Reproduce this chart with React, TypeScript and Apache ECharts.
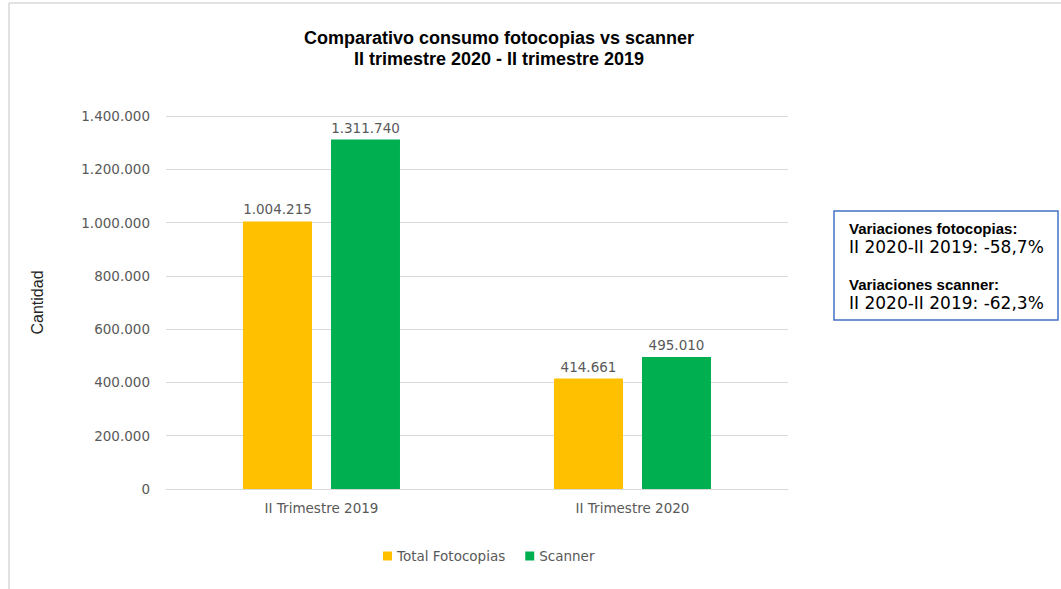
import React, { useEffect, useRef } from "react";
import * as echarts from "echarts";

const categories = ["II Trimestre 2019", "II Trimestre 2020"];
const fotocopias = [1004215, 414661];
const scanner = [1311740, 495010];
const seriesNames = ["Total Fotocopias", "Scanner"];
const titleLines = ["Comparativo consumo fotocopias vs scanner", "II trimestre 2020 - II trimestre 2019"];
const boxLines = [
  "Variaciones fotocopias:",
  "II 2020-II 2019: -58,7%",
  "Variaciones scanner:",
  "II 2020-II 2019: -62,3%",
];

const fmt = (v: number) => String(Math.round(v)).replace(/\B(?=(\d{3})+(?!\d))/g, ".");

export default function App() {
  const ref = useRef<HTMLDivElement>(null);
  useEffect(() => {
    if (!ref.current) return;
    const chart = echarts.init(ref.current, undefined, { renderer: "svg" });
    const labelFont = "DejaVu Sans";
    const boldText = (text: string, y: number) => ({
      type: "text",
      x: 849,
      y,
      style: { text, fontFamily: "Liberation Sans", fontWeight: "bold", fontSize: 15, fill: "#000", verticalAlign: "middle" },
    });
    const plainText = (text: string, y: number) => ({
      type: "text",
      x: 849,
      y,
      style: { text, fontFamily: "DejaVu Sans", fontSize: 17, fill: "#000", verticalAlign: "middle" },
    });
    const titleText = (text: string, y: number) => ({
      type: "text",
      x: 499,
      y,
      style: {
        text,
        fontFamily: "Liberation Sans",
        fontWeight: "bold",
        fontSize: 18,
        fill: "#000000",
        align: "center",
        verticalAlign: "middle",
      },
    });
    const barLabel = {
      show: true,
      position: "top",
      distance: 5,
      fontFamily: labelFont,
      fontSize: 13.5,
      color: "#595959",
      formatter: (p: any) => fmt(p.value),
    };
    chart.setOption({
      animation: false,
      backgroundColor: "#ffffff",
      grid: { left: 166, right: 273, top: 116, bottom: 100 },
      legend: {
        left: 378,
        top: 544,
        itemWidth: 9,
        itemHeight: 9,
        itemGap: 20,
        icon: "rect",
        textStyle: { fontFamily: labelFont, fontSize: 13.5, color: "#595959" },
        data: seriesNames,
      },
      xAxis: {
        type: "category",
        data: categories,
        axisLine: { show: true, lineStyle: { color: "#d9d9d9", width: 1 } },
        axisTick: { show: false },
        axisLabel: { fontFamily: labelFont, fontSize: 13.5, color: "#595959", margin: 12 },
      },
      yAxis: {
        type: "value",
        min: 0,
        max: 1400000,
        interval: 200000,
        name: "Cantidad",
        nameLocation: "middle",
        nameGap: 121,
        nameRotate: 90,
        nameTextStyle: { fontFamily: "Liberation Sans", fontSize: 16, color: "#262626" },
        axisLine: { show: false },
        axisTick: { show: false },
        splitLine: { lineStyle: { color: "#d9d9d9", width: 1 } },
        axisLabel: {
          fontFamily: labelFont,
          fontSize: 13.5,
          color: "#595959",
          margin: 16,
          formatter: (v: number) => fmt(v),
        },
      },
      series: [
        {
          name: seriesNames[0],
          type: "bar",
          data: fotocopias,
          barWidth: 69,
          barGap: "27.5%",
          itemStyle: { color: "#FFC000" },
          label: barLabel,
        },
        {
          name: seriesNames[1],
          type: "bar",
          data: scanner,
          barWidth: 69,
          barGap: "27.5%",
          itemStyle: { color: "#00B050" },
          label: barLabel,
        },
      ],
      graphic: [
        { type: "line", shape: { x1: 9, y1: 3, x2: 9, y2: 589 }, style: { stroke: "#d9d9d9", lineWidth: 1.5 } },
        { type: "line", shape: { x1: 9, y1: 3, x2: 1061, y2: 3 }, style: { stroke: "#d9d9d9", lineWidth: 1.5 } },
        titleText(titleLines[0], 38),
        titleText(titleLines[1], 59),
        {
          type: "rect",
          shape: { x: 834, y: 211, width: 224, height: 109 },
          style: { fill: "#ffffff", stroke: "#4472C4", lineWidth: 1.5 },
        },
        boldText(boxLines[0], 228),
        plainText(boxLines[1], 247),
        boldText(boxLines[2], 284),
        plainText(boxLines[3], 303),
      ],
    });
    return () => chart.dispose();
  }, []);
  return (
    <div
      ref={ref}
      style={{ position: "fixed", left: 0, top: 0, width: 1061, height: 589, background: "#fff" }}
    />
  );
}
